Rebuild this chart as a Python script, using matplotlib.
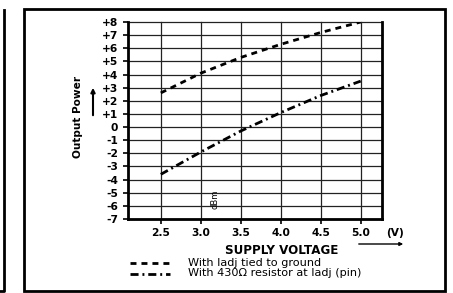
import matplotlib
matplotlib.use("Agg")
import matplotlib.pyplot as plt
from matplotlib.patches import Rectangle, FancyArrowPatch
from matplotlib.lines import Line2D

plt.rcParams["font.family"] = ["DejaVu Sans"]
plt.rcParams["lines.scale_dashes"] = False

# data
voltage = [2.5, 3.0, 3.5, 4.0, 4.5, 5.0]
power_gnd = [2.6, 4.1, 5.3, 6.3, 7.2, 8.0]
power_430 = [-3.6, -1.9, -0.3, 1.1, 2.4, 3.5]
y_ticks = list(range(-7, 9))
y_labels = [f"+{v}" if v > 0 else str(v) for v in y_ticks]
x_labels = ["2.5", "3.0", "3.5", "4.0", "4.5", "5.0"]
legend_labels = ["With Iadj tied to ground", "With 430\u03a9 resistor at Iadj (pin)"]

DASH = (0, (4.3, 3.6))
DASHDOT = (0, (5.8, 2.8, 1.4, 2.8))

W, H = 453, 293
fig = plt.figure(figsize=(W / 100, H / 100), dpi=100)


def fx(px):
    return px / W


def fy(py):
    return 1 - py / H


ax = fig.add_axes([fx(128), fy(219), fx(381.5) - fx(128), fy(22) - fy(219)])
ax.set_xlim(2.09, 5.26)
ax.set_ylim(-7, 8)

ax.plot(voltage, power_gnd, color="black", lw=2, ls=DASH)
ax.plot(voltage, power_430, color="black", lw=2, ls=DASHDOT)

ax.set_xticks(voltage)
ax.set_xticklabels(x_labels, fontsize=7.7, fontweight="bold")
ax.set_yticks(y_ticks)
ax.set_yticklabels(y_labels, fontsize=7.7, fontweight="bold")
ax.tick_params(axis="both", direction="out", length=3.6, width=1.2, color="black")
ax.tick_params(axis="y", pad=3.5)
ax.tick_params(axis="x", pad=3.2)
ax.grid(True, color="#222222", lw=0.9)
for s in ["left", "bottom", "right"]:
    ax.spines[s].set_linewidth(2)
ax.spines["top"].set_visible(False)
for ln in ax.get_ygridlines() + ax.get_xgridlines():
    ln.set_clip_on(False)

fig.text(fx(78), fy(117), "Output Power", rotation=90, ha="center", va="center",
         fontsize=7.6, fontweight="bold")
fig.add_artist(FancyArrowPatch((fx(93), fy(118)), (fx(93), fy(85)),
                               transform=fig.transFigure, arrowstyle="-|>",
                               mutation_scale=6, lw=1.5, color="black"))
fig.text(fx(215), fy(199), "dBm", rotation=90, ha="center", va="center", fontsize=6)

fig.text(fx(395), fy(233), "(V)", ha="center", va="center", fontsize=7.7, fontweight="bold")
fig.add_artist(FancyArrowPatch((fx(356), fy(244)), (fx(406), fy(244)),
                               transform=fig.transFigure, arrowstyle="-|>",
                               mutation_scale=5, lw=1, color="black"))
fig.text(fx(282), fy(251), "SUPPLY VOLTAGE", ha="center", va="center",
         fontsize=8.6, fontweight="bold")

# legend drawn by hand: the rows sit tighter than fig.legend allows
for i, (style, label) in enumerate(zip([DASH, DASHDOT], legend_labels)):
    yy = fy(262.5 + 11 * i)
    fig.add_artist(Line2D([fx(130), fx(170)], [yy, yy], transform=fig.transFigure,
                          color="black", lw=2, ls=style))
    fig.text(fx(188), yy, label, ha="left", va="center", fontsize=8.1)

# outer frame and the edge of the neighbouring panel
fig.add_artist(Rectangle((fx(24), fy(291)), fx(445) - fx(24), fy(9) - fy(291),
                         transform=fig.transFigure, fill=False, lw=2, ec="black"))
fig.add_artist(Line2D([fx(3.5), fx(3.5), fx(0)], [fy(10), fy(290.5), fy(290.5)],
                      transform=fig.transFigure, lw=2, color="black"))

fig.savefig("out.png", dpi=100)
